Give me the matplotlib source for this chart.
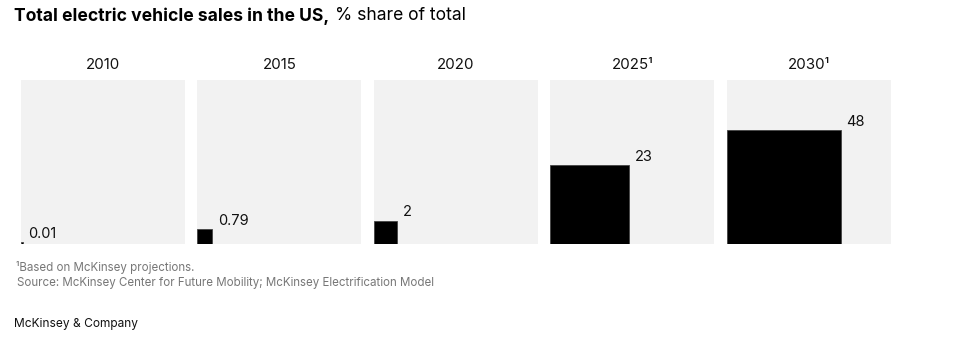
import numpy as np
from matplotlib import pyplot as plt

plt.rcParams['font.family'] = ['Inter', 'DejaVu Sans']

years = ['2010', '2015', '2020', '2025\u00b9', '2030\u00b9']
shares = [0.01, 0.79, 2, 23, 48]
labels = ['0.01', '0.79', '2', '23', '48']

W, H = 962, 354
fig = plt.figure(figsize=(W / 100, H / 100), dpi=100)

# panel layout in pixels
left0, step, size, top = 21, 176.5, 164, 80

for i in range(len(years)):
    left = left0 + i * step
    ax = fig.add_axes([left / W, (H - top - size) / H, size / W, size / H])
    ax.set_facecolor('#f2f2f2')
    ax.set_xlim(0, 1)
    ax.set_ylim(0, 1)
    for s in ax.spines.values():
        s.set_visible(False)
    ax.set_xticks([])
    ax.set_yticks([])

    side = np.sqrt(shares[i] / 100.0)
    ax.bar(0, side, width=side, align='edge', color='black',
           edgecolor='#444444', linewidth=0.6)
    ax.annotate(labels[i], xy=(side, side), xytext=(4, 1),
                textcoords='offset points', ha='left', va='bottom',
                fontsize=10.5, color='#111111')
    ax.set_title(years[i], fontsize=10.8, color='#111111', pad=8)

# title
t1 = fig.text(14 / W, 1 - 16 / H, 'Total electric vehicle sales in the US,',
              fontsize=12.6, fontweight='bold', va='center', ha='left')
fig.axes[0].annotate('% share of total', xy=(1, 0.5), xycoords=t1,
                     xytext=(4, 0), textcoords='offset points',
                     fontsize=12.6, va='center', ha='left',
                     annotation_clip=False)

# footnotes
fig.text(16 / W, 1 - 268 / H, '\u00b9Based on McKinsey projections.',
         fontsize=8.3, color='#777777', va='center', ha='left')
fig.text(17 / W, 1 - 283 / H,
         'Source: McKinsey Center for Future Mobility; McKinsey Electrification Model',
         fontsize=8.3, color='#777777', va='center', ha='left')
fig.text(14 / W, 1 - 324 / H, 'McKinsey & Company', fontsize=8.6,
         color='#111111', va='center', ha='left')

fig.savefig('out.png', dpi=100)
